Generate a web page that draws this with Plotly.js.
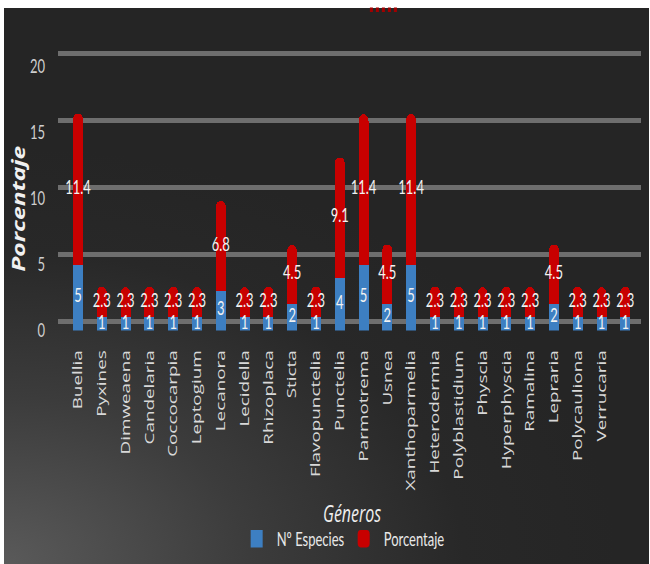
<!DOCTYPE html>
<html>
<head>
<meta charset="utf-8">
<script src="https://cdn.plot.ly/plotly-3.0.1.min.js"></script>
<style>
  html, body { margin: 0; padding: 0; background: #ffffff; overflow: hidden; }
  #wrap {
    position: absolute; left: 4px; top: 8px; width: 645px; height: 556px;
    background: radial-gradient(ellipse 95% 75% at 0% 100%, #5a5a5a 0%, #3c3c3c 40%, #282828 75%, #252525 100%);
  }
  /* the chart is laid out on a short canvas and stretched vertically */
  #chart {
    position: absolute; left: 0; top: 0; width: 650px; height: 389px;
    transform: scaleY(1.4499); transform-origin: 0 0;
  }
</style>
</head>
<body>
<div id="wrap"></div>
<div id="chart"></div>
<script>
// Lichen genera with number of species and share of the total (%)
const generos = ["Buellia", "Pyxines", "Dimweaena", "Candelaria", "Coccocarpia", "Leptogium",
  "Lecanora", "Lecidella", "Rhizoplaca", "Sticta", "Flavopunctelia", "Punctelia",
  "Parmotrema", "Usnea", "Xanthoparmelia", "Heterodermia", "Polyblastidium", "Physcia",
  "Hyperphyscia", "Ramalina", "Lepraria", "Polycauliona", "Verrucaria", ""];
const especies = [5, 1, 1, 1, 1, 1, 3, 1, 1, 2, 1, 4, 5, 2, 5, 1, 1, 1, 1, 1, 2, 1, 1, 1];
const porcentaje = [11.4, 2.3, 2.3, 2.3, 2.3, 2.3, 6.8, 2.3, 2.3, 4.5, 2.3, 9.1, 11.4, 4.5,
  11.4, 2.3, 2.3, 2.3, 2.3, 2.3, 4.5, 2.3, 2.3, 2.3];
const yTicks = [0, 5, 10, 15, 20];

const idx = generos.map((_, i) => i);
const sans = "Lato, Open Sans, sans-serif";
const open = "Open Sans, DejaVu Sans, sans-serif";
const blue = "#3d7fc2";
const red = "#c80000";

const barEspecies = {
  type: "bar", name: "Nº Especies", x: idx, y: especies,
  marker: { color: blue }, hoverinfo: "skip"
};
const barPorcentaje = {
  type: "bar", name: "Porcentaje", x: idx, y: porcentaje,
  marker: { color: red, cornerradius: 5 }, hoverinfo: "skip"
};
// value labels centred in each stacked segment
const lblEspecies = {
  type: "scatter", mode: "text", x: idx, y: especies.map(v => v / 2),
  text: especies.map(String), textfont: { family: sans, size: 13, color: "#f2f2f2" },
  showlegend: false, hoverinfo: "skip", cliponaxis: false
};
const lblPorcentaje = {
  type: "scatter", mode: "text", x: idx, y: especies.map((v, i) => v + porcentaje[i] / 2),
  text: porcentaje.map(v => v.toFixed(1)), textfont: { family: sans, size: 13, color: "#f2f2f2" },
  showlegend: false, hoverinfo: "skip", cliponaxis: false
};
// back wall of the chart: carries the gridlines, set slightly behind the bars
const backWall = { type: "scatter", x: [], y: [], yaxis: "y2", showlegend: false, hoverinfo: "skip" };

const layout = {
  width: 650, height: 389,
  paper_bgcolor: "rgba(0,0,0,0)", plot_bgcolor: "rgba(0,0,0,0)",
  margin: { l: 58, r: 9, t: 27.59, b: 160.7, autoexpand: false },
  barmode: "stack", bargap: 0.58,
  showlegend: true,
  legend: {
    orientation: "h", x: 0.49, xanchor: "center", y: -0.718, yanchor: "middle",
    font: { family: sans, size: 13, color: "#e8e8e8" }, traceorder: "normal",
    itemwidth: 30, entrywidth: 62, bgcolor: "rgba(0,0,0,0)"
  },
  xaxis: {
    range: [-0.84, 23.66], tickmode: "array", tickvals: idx, ticktext: generos,
    tickangle: -90, ticks: "", ticklabelstandoff: 10, automargin: false,
    showgrid: false, zeroline: false, showline: false,
    tickfont: { family: open, size: 13, color: "#d8d8d8" }
  },
  yaxis: {
    range: [0, 21.96], tickvals: yTicks, ticks: "", ticklabelstandoff: 12, automargin: false,
    showgrid: false, zeroline: false, showline: false,
    tickfont: { family: sans, size: 13, color: "#cfcfcf" }
  },
  yaxis2: {
    overlaying: "y", range: [-0.669, 20.967], tickvals: yTicks, showticklabels: false, ticks: "",
    automargin: false, showgrid: true, gridcolor: "#6e6e6e", gridwidth: 3, zeroline: false, showline: false
  },
  annotations: [
    { text: "Géneros", xref: "paper", yref: "paper", x: 0.504, y: -0.63,
      xanchor: "center", yanchor: "middle", showarrow: false,
      font: { family: open, size: 16, color: "#eeeeee", style: "italic" } },
    { text: "<b><i>Porcentaje</i></b>", xref: "paper", yref: "paper", x: -0.0686, y: 0.4227,
      xanchor: "center", yanchor: "middle", textangle: -90, showarrow: false,
      font: { family: open, size: 17, color: "#f0f0f0" } }
  ],
  shapes: [
    { type: "line", xref: "paper", yref: "paper", x0: 0.535, x1: 0.585, y0: 1.1065, y1: 1.1065,
      line: { color: "#a00000", width: 3, dash: "dot" } }
  ]
};

Plotly.newPlot("chart", [backWall, barEspecies, barPorcentaje, lblEspecies, lblPorcentaje], layout,
  { displayModeBar: false, staticPlot: true });
</script>
</body>
</html>
